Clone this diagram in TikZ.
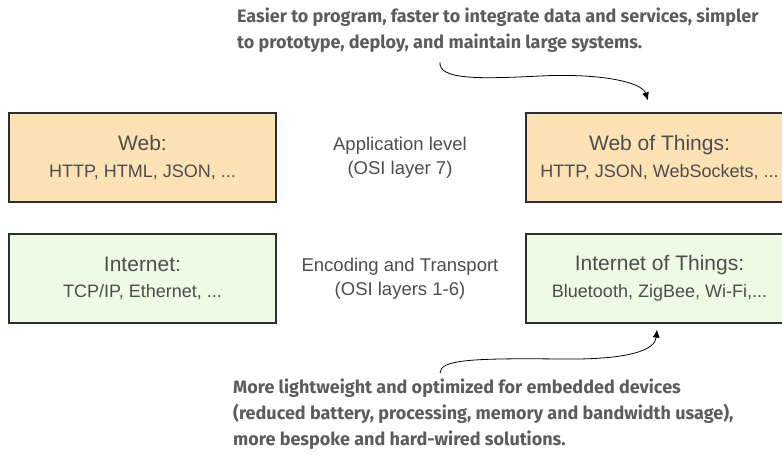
\documentclass[tikz,border=0pt]{standalone}
\usepackage{fontspec}
\setmainfont{Liberation Sans}
\newfontfamily\notefont{Fira Sans}
\usetikzlibrary{arrows.meta}

\definecolor{webfill}{HTML}{FDE2B6}
\definecolor{netfill}{HTML}{EDFBE4}
\definecolor{boxline}{HTML}{2E2E2E}
\definecolor{labeltext}{HTML}{4D4D4D}
\definecolor{notetext}{HTML}{5C5C5C}

\tikzset{
  layerbox/.style={draw=boxline, line width=1.1pt, minimum width=267pt,
    minimum height=89pt, inner sep=0pt, align=center, text=labeltext,
    font=\fontsize{18}{26.5}\selectfont},
  webbox/.style={layerbox, fill=webfill},
  netbox/.style={layerbox, fill=netfill},
  levellabel/.style={align=center, text=labeltext, inner sep=0pt,
    font=\fontsize{18.5}{24}\selectfont},
  note/.style={align=left, text=notetext, inner sep=0pt, anchor=base west,
    font=\notefont\bfseries\fontsize{18}{26}\selectfont},
  curlyarrow/.style={draw=black, line width=0.8pt,
    -{Latex[length=8pt,width=7pt]}}
}

\newcommand{\boxhead}[1]{{\fontsize{21}{26.5}\selectfont #1}}

\begin{document}
\begin{tikzpicture}[x=1pt,y=-1pt]
\useasboundingbox (0,0) rectangle (782,456);

% protocol stacks
\node[webbox] (web) at (142.5,157.5)
  {\boxhead{Web:}\\ HTTP, HTML, JSON, ...};
\node[webbox] (wot) at (659.5,157.5)
  {\boxhead{Web of Things:}\\ HTTP, JSON, WebSockets, ...};
\node[netbox] (inet) at (142.5,278.5)
  {\boxhead{Internet:}\\ TCP/IP, Ethernet, ...};
\node[netbox] (iot) at (659.5,278.5)
  {\boxhead{Internet of Things:}\\ Bluetooth, ZigBee, Wi-Fi,...};

% layer names
\node[levellabel] (app) at (400,157.5) {Application level\\(OSI layer 7)};
\node[levellabel] (enc) at (400,278.5) {Encoding and Transport\\(OSI layers 1-6)};

% annotations (anchored on the baseline of their last line)
\node[note] (upnote) at (237,48)
  {Easier to program, faster to integrate data and services, simpler\\
   to prototype, deploy, and maintain large systems.};
\node[note] (downnote) at (233,445)
  {More lightweight and optimized for embedded devices\\
   (reduced battery, processing, memory and bandwidth usage),\\
   more bespoke and hard-wired solutions.};

\coordinate (uptail) at (440,62);
\coordinate (downtail) at (440,373);

\draw[curlyarrow] (uptail) .. controls (438,80) and (480,79) .. (540,76)
  .. controls (600,73) and (642,82) .. ([yshift=12pt]wot.north -| 648,0);
\draw[curlyarrow] (downtail) .. controls (440,360) and (470,358) .. (560,359)
  .. controls (630,360) and (655,350) .. ([yshift=-6pt]iot.south -| 657,0);
\end{tikzpicture}
\end{document}
